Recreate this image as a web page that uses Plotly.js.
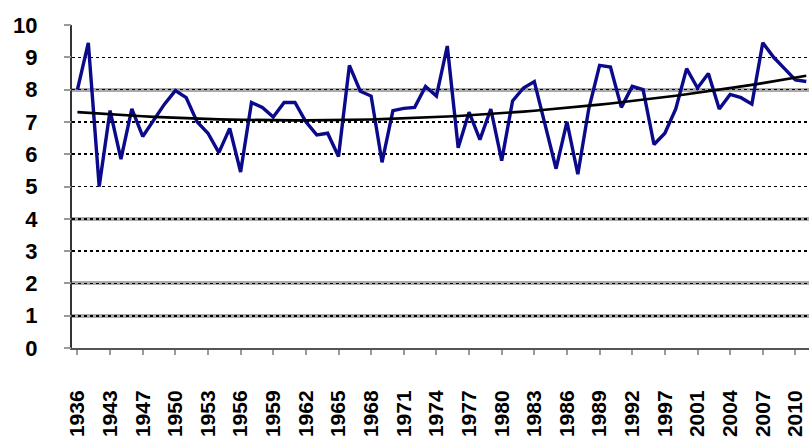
<!DOCTYPE html>
<html><head><meta charset="utf-8">
<script src="https://cdn.plot.ly/plotly-3.0.1.min.js"></script>
<style>html,body{margin:0;padding:0;background:#fff;} #chart{width:809px;height:439px;}</style>
</head><body><div id="chart"></div>
<script>
const categories = ["1936","1941","1942","1943","1945","1946",
  "1947","1948","1949","1950","1951","1952","1953","1954","1955","1956",
  "1957","1958","1959","1960","1961","1962","1963","1964","1965","1966",
  "1967","1968","1969","1970","1971","1972","1973","1974","1975","1976",
  "1977","1978","1979","1980","1981","1982","1983","1984","1985","1986",
  "1987","1988","1989","1990","1991","1992","1994","1995","1997","1999",
  "2000","2001","2002","2003","2004","2005","2006","2007","2008","2009",
  "2010","2011"];
const values = [8.0, 9.45, 5.0, 7.35, 5.85, 7.4,
  6.55, 7.05, 7.55, 7.97, 7.75, 7.0, 6.65, 6.05, 6.8, 5.45,
  7.6, 7.45, 7.15, 7.6, 7.6, 7.0, 6.6, 6.65, 5.93, 8.75,
  7.95, 7.8, 5.75, 7.35, 7.42, 7.45, 8.1, 7.8, 9.35, 6.2,
  7.3, 6.45, 7.4, 5.8, 7.65, 8.05, 8.25, 6.9, 5.55, 7.0,
  5.38, 7.4, 8.75, 8.7, 7.45, 8.1, 8.0, 6.3, 6.65, 7.4,
  8.65, 8.05, 8.5, 7.4, 7.85, 7.75, 7.55, 9.45, 9.0, 8.65,
  8.3, 8.25];
const tickLabels = ["1936","1943","1947","1950","1953","1956","1959","1962",
  "1965","1968","1971","1974","1977","1980","1983","1986","1989","1992",
  "1997","2001","2004","2007","2010"];
const yTicks = [0,1,2,3,4,5,6,7,8,9,10];
const heavyGrid = [1,2,4,8,10];

// 2nd-order polynomial trendline (least squares) from the series
function polyTrend(ys){
  const n = ys.length, S = [0,0,0,0,0], T = [0,0,0];
  for (let i = 0; i < n; i++) {
    for (let k = 0; k < 5; k++) S[k] += Math.pow(i, k);
    for (let k = 0; k < 3; k++) T[k] += ys[i] * Math.pow(i, k);
  }
  const A = [[S[0],S[1],S[2],T[0]],[S[1],S[2],S[3],T[1]],[S[2],S[3],S[4],T[2]]];
  for (let c = 0; c < 3; c++) {
    for (let r = c + 1; r < 3; r++) {
      const f = A[r][c] / A[c][c];
      for (let k = c; k < 4; k++) A[r][k] -= f * A[c][k];
    }
  }
  const co = [0,0,0];
  for (let r = 2; r >= 0; r--) {
    let s = A[r][3];
    for (let k = r + 1; k < 3; k++) s -= A[r][k] * co[k];
    co[r] = s / A[r][r];
  }
  return ys.map((_, i) => co[0] + co[1] * i + co[2] * i * i);
}
const trend = polyTrend(values);

const traces = [
  {x: categories, y: values, type: 'scatter', mode: 'lines',
   line: {color: '#0a0a8a', width: 3.4}, hoverinfo: 'skip'},
  {x: categories, y: trend, type: 'scatter', mode: 'lines', yaxis: 'y2',
   line: {color: '#000000', width: 2.6}, hoverinfo: 'skip'}
];

const layout = {
  width: 809, height: 439,
  margin: {l: 72, r: 0, t: 25, b: 91},
  paper_bgcolor: '#ffffff', plot_bgcolor: '#ffffff',
  showlegend: false,
  xaxis: {
    type: 'category', range: [-0.5, 67.25],
    tickmode: 'array', tickvals: tickLabels, ticktext: tickLabels,
    tickangle: -90, ticks: 'outside', ticklen: 5, tickcolor: '#9a9a9a', tickwidth: 2,
    ticklabelstandoff: 27,
    tickfont: {family: 'Liberation Sans, Arial, sans-serif', size: 21, color: '#000', weight: 'bold'},
    showline: true, linecolor: '#555555', linewidth: 2,
    showgrid: false, zeroline: false
  },
  yaxis: {
    range: [0, 10], tickmode: 'array', tickvals: heavyGrid,
    showticklabels: false, ticks: '',
    showgrid: true, gridcolor: '#ababab', gridwidth: 4,
    zeroline: false, showline: true, linecolor: '#333333', linewidth: 2
  },
  yaxis2: {
    overlaying: 'y', side: 'left', range: [0, 10],
    tickmode: 'array', tickvals: yTicks, ticktext: yTicks.map(String),
    showgrid: true, gridcolor: '#000000', gridwidth: 1.6, griddash: 'dot',
    ticks: 'outside', ticklen: 7, tickcolor: '#9a9a9a', tickwidth: 2,
    ticklabelstandoff: 22,
    tickfont: {family: 'Liberation Sans, Arial, sans-serif', size: 22, color: '#000', weight: 'bold'},
    zeroline: false, showline: false
  }
};

Plotly.newPlot('chart', traces, layout, {displayModeBar: false, staticPlot: true});
</script>
</body></html>
